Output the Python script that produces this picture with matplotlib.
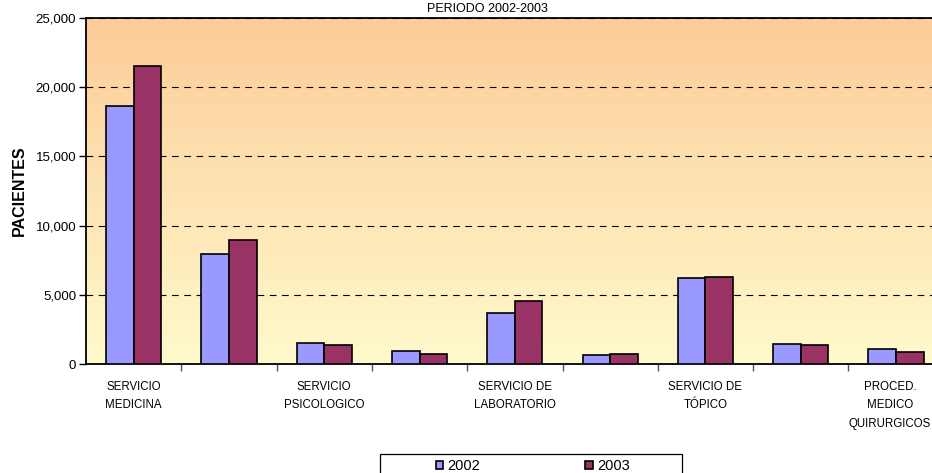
import numpy as np
import matplotlib
matplotlib.use("Agg")
import matplotlib.pyplot as plt
import matplotlib.transforms as mtransforms
from matplotlib.ticker import FuncFormatter, MultipleLocator
from matplotlib.colors import LinearSegmentedColormap
from matplotlib.patches import Rectangle

plt.rcParams['font.family'] = ['Liberation Sans', 'DejaVu Sans']

categories = ["SERVICIO\nMEDICINA", "", "SERVICIO\nPSICOLOGICO", "",
              "SERVICIO DE\nLABORATORIO", "", "SERVICIO DE\nTÓPICO", "",
              "PROCED.\nMEDICO\nQUIRURGICOS"]
series_names = ["2002", "2003"]
values_2002 = [18650, 7970, 1540, 940, 3710, 650, 6240, 1420, 1080]
values_2003 = [21550, 8940, 1350, 750, 4580, 750, 6290, 1400, 870]
title = "PERIODO 2002-2003"
ylabel = "PACIENTES"

W, H = 932, 473
fig = plt.figure(figsize=(W / 100, H / 100), dpi=100)
left, right, top, bottom = 86, 932, 18, 364
ax = fig.add_axes([left / W, 1 - bottom / H, (right - left) / W, (bottom - top) / H])

# gradient background
cmap = LinearSegmentedColormap.from_list("bg", ["#FFFACC", "#FDCC99"])
grad = np.linspace(0, 1, 256).reshape(-1, 1)
ax.imshow(grad, aspect="auto", cmap=cmap, extent=[0, 1, 0, 1], origin="lower",
          transform=ax.transAxes, zorder=0)

x = np.arange(len(categories))
bw = 0.29
ax.bar(x - bw / 2, values_2002, width=bw, color="#9999FF", edgecolor="black",
       linewidth=1.2, label=series_names[0], zorder=3)
ax.bar(x + bw / 2, values_2003, width=bw, color="#993366", edgecolor="black",
       linewidth=1.2, label=series_names[1], zorder=3)

ax.yaxis.set_major_locator(MultipleLocator(5000))
ax.yaxis.set_major_formatter(FuncFormatter(lambda v, p: f"{int(v):,}"))
ax.yaxis.grid(True, linestyle=(0, (6, 5)), color="black", linewidth=0.8, zorder=1)

ax.set_xticks(x)
ax.set_xticklabels(categories, fontsize=8.3, linespacing=1.75)
ax.set_xticks(np.arange(len(categories) - 1) + 0.5, minor=True)
ax.tick_params(axis="x", which="major", length=0, pad=12)
ax.tick_params(axis="x", which="minor", length=5, color="#555555", width=1)
ax.tick_params(axis="y", length=5, width=1, labelsize=9.5, pad=2)

ax.set_ylim(0, 25000)
ax.set_xlim(-0.5, -0.5 + (right - left) / 95.3)

# nudge the last category label so it stays inside the figure
last = ax.get_xticklabels()[-1]
last.set_transform(last.get_transform() +
                   mtransforms.ScaledTranslation(-6 / 100, 0, fig.dpi_scale_trans))

for s in ["left", "bottom", "top"]:
    ax.spines[s].set_color("black")
    ax.spines[s].set_linewidth(1.3)
ax.spines["right"].set_visible(False)

ax.set_ylabel(ylabel, fontsize=11.5, fontweight="bold", labelpad=6)

fig.text(487 / W, 1 - 12 / H, title, ha="center", va="baseline", fontsize=9)

# legend frame (partly below the figure edge, as in the reference)
fig.patches.append(Rectangle((380 / W, 1 - 485 / H), 302 / W, 31 / H,
                             transform=fig.transFigure, facecolor="white",
                             edgecolor="black", linewidth=0.9, zorder=1))
leg = fig.legend(loc="center left", bbox_to_anchor=(436 / W, 1 - 466 / H), ncol=2,
                 frameon=False, fontsize=10.5, handlelength=0.5, handleheight=0.5,
                 handletextpad=0.3, columnspacing=7.2, borderpad=0,
                 borderaxespad=0)
leg.set_zorder(2)

fig.savefig("out.png", dpi=100)
